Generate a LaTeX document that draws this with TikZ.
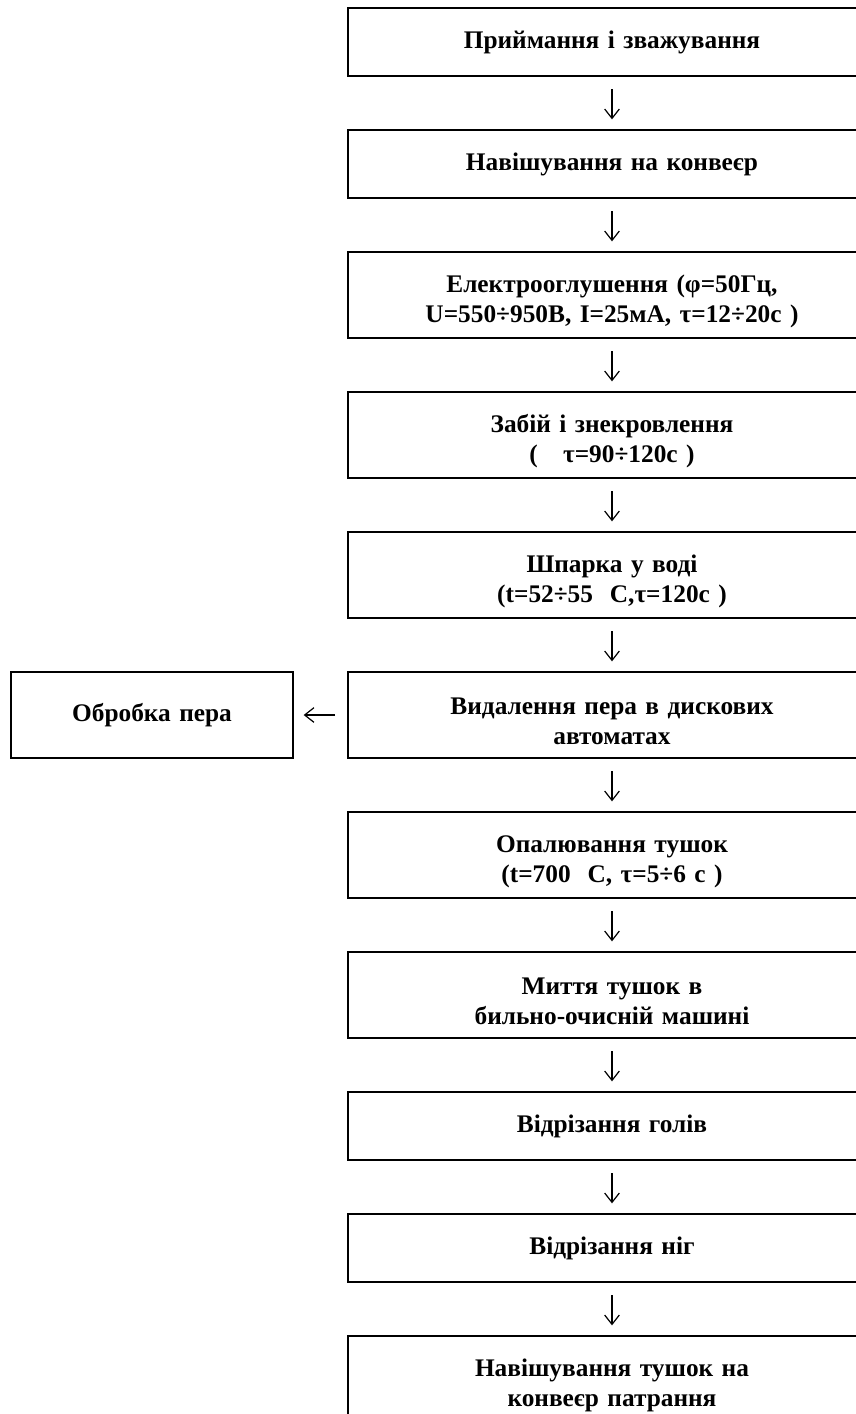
\documentclass[tikz,border=0pt]{standalone}
\usepackage{fontspec}
\setmainfont{Liberation Serif}
\usetikzlibrary{arrows.meta}
\usetikzlibrary{positioning}

\begin{document}
\begin{tikzpicture}[x=0.75pt,y=-0.75pt,
  stage/.style={draw,line width=1.3pt,minimum width=396pt,minimum height=51pt,outer sep=0pt,
    text width=380pt,align=center,inner sep=0pt,font=\fontsize{19}{22.5}\selectfont\bfseries},
  tall/.style={stage,minimum height=64.5pt,execute at begin node={\rule{0pt}{22.5pt}}},
  side/.style={stage,minimum width=211.5pt,text width=200pt,minimum height=64.5pt},
  flow/.style={line width=0.9pt,-{Straight Barb[length=7pt,width=11pt]},
    shorten <=9.75pt,shorten >=8pt}]
\useasboundingbox (0,0) rectangle (856,1414);
\clip (0,0) rectangle (856,1414);

% main line
\node[stage] (n1) at (612,42) {Приймання і зважування};
\node[stage,below=40.5pt of n1] (n2) {Навішування на конвеєр};
\node[tall,below=40.5pt of n2] (n3) {Електрооглушення (φ=50Гц,\\U=550÷950В, I=25мА, τ=12÷20с )};
\node[tall,below=40.5pt of n3] (n4) {Забій і знекровлення\\(\ \ \ τ=90÷120с )};
\node[tall,below=40.5pt of n4] (n5) {Шпарка у воді\\(t=52÷55\ \ С,τ=120с )};
\node[tall,below=40.5pt of n5] (n6) {Видалення пера в дискових\\автоматах};
\node[tall,below=40.5pt of n6] (n7) {Опалювання тушок\\(t=700\ \ С, τ=5÷6 с )};
\node[tall,below=40.5pt of n7] (n8) {Миття тушок в\\бильно-очисній машині};
\node[stage,below=40.5pt of n8] (n9) {Відрізання голів};
\node[stage,below=40.5pt of n9] (n10) {Відрізання ніг};
\node[tall,below=40.5pt of n10] (n11) {Навішування тушок на\\конвеєр патрання};

% feathers
\node[side,left=41.25pt of n6] (feather) {Обробка пера};

\draw[flow] (n1) -- (n2);
\draw[flow] (n2) -- (n3);
\draw[flow] (n3) -- (n4);
\draw[flow] (n4) -- (n5);
\draw[flow] (n5) -- (n6);
\draw[flow] (n6) -- (n7);
\draw[flow] (n7) -- (n8);
\draw[flow] (n8) -- (n9);
\draw[flow] (n9) -- (n10);
\draw[flow] (n10) -- (n11);
\draw[flow] (n6) -- (feather);

\end{tikzpicture}
\end{document}
